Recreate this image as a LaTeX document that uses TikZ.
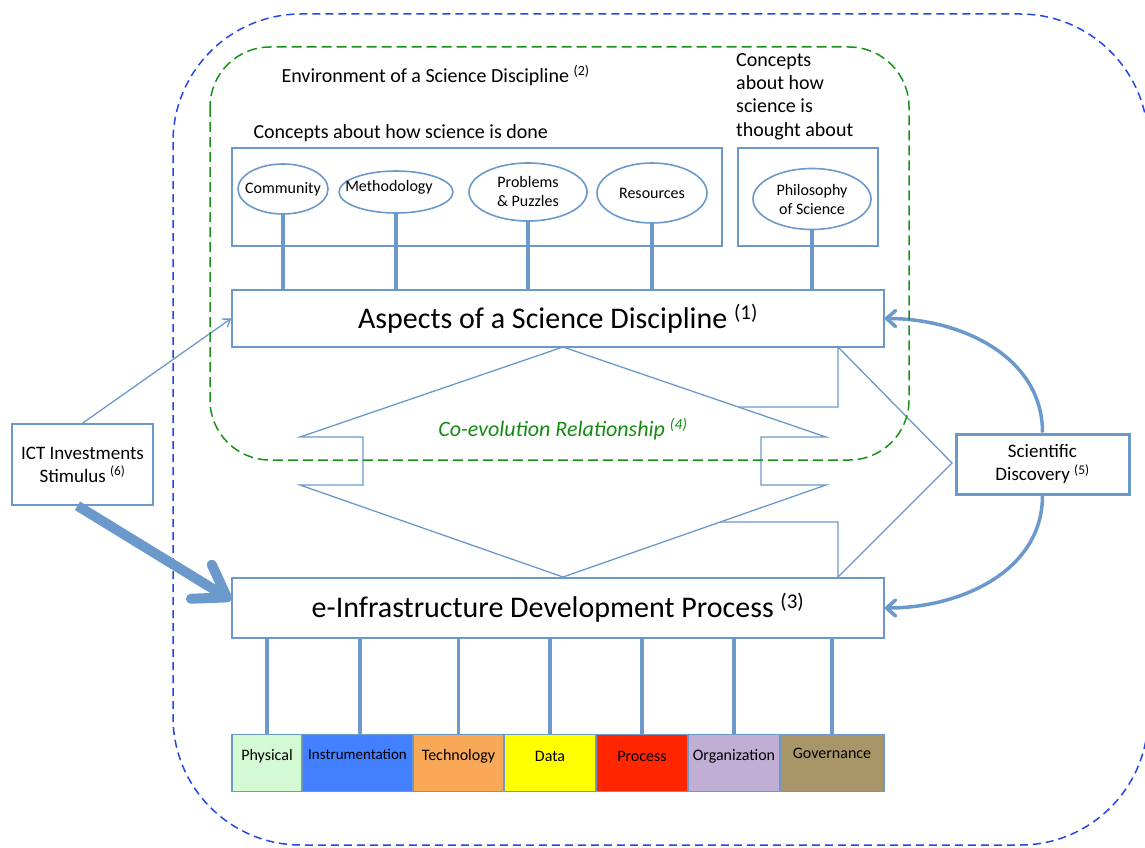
\documentclass[tikz,border=0pt]{standalone}
\usepackage{fontspec}
\setmainfont{Carlito}
\usetikzlibrary{arrows.meta,shapes.geometric}

\definecolor{edgeblue}{RGB}{108,153,204}
\definecolor{framebl}{RGB}{35,70,235}
\definecolor{framegr}{RGB}{25,145,25}
\definecolor{txtgreen}{RGB}{20,140,20}
\definecolor{cPhys}{RGB}{212,250,212}
\definecolor{cInst}{RGB}{66,128,255}
\definecolor{cTech}{RGB}{249,168,88}
\definecolor{cData}{RGB}{255,255,0}
\definecolor{cProc}{RGB}{255,38,0}
\definecolor{cOrg}{RGB}{192,174,212}
\definecolor{cGov}{RGB}{168,150,104}

\begin{document}
\begin{tikzpicture}[x=1pt,y=-1pt,
  box/.style={draw=edgeblue, line width=1.6pt, fill=white, inner sep=0pt},
  oval/.style={ellipse, draw=edgeblue, line width=1.6pt, fill=white, inner sep=0pt},
  ovaltext/.style={label={[align=center, font=\fontsize{16}{19}\selectfont]center:#1}},
  conn/.style={draw=edgeblue, line width=3.5pt},
  outline/.style={draw=edgeblue, line width=1.3pt, fill=white},
  cbox/.style={draw=edgeblue, line width=1.6pt, inner sep=0pt, minimum height=57pt},
  clbl/.style={font=\fontsize{16}{19}\selectfont, yshift=7pt},
  bluedash/.style={draw=framebl, line width=1.5pt, dash pattern=on 8pt off 5pt},
  greendash/.style={draw=framegr, line width=1.5pt, dash pattern=on 10pt off 5pt},
  bigfont/.style={font=\fontsize{30}{36}\selectfont},
  midfont/.style={font=\fontsize{19}{23}\selectfont},
]
\useasboundingbox (0,0) rectangle (1145,848);

% outer frame
\draw[bluedash, rounded corners=128pt] (173,14) rectangle (1148,845);

% concept boxes
\node[box, minimum width=490pt, minimum height=98pt] (done) at (477,197) {};
\node[box, minimum width=140pt, minimum height=98pt] (thought) at (808,197) {};

% main process boxes
\node[box, bigfont, minimum width=652pt, minimum height=57pt] (asp) at (558,318.5)
  {Aspects of a Science Discipline \textsuperscript{(1)}};
\node[box, bigfont, minimum width=652pt, minimum height=60pt] (einf) at (558,608)
  {e-Infrastructure Development Process \textsuperscript{(3)}};

% co-evolution arrow and diamond
\draw[outline] (838,347) -- (952,463) -- (838,577) -- (838,522) -- (700,522)
  -- (700,407) -- (838,407) -- cycle;
\draw[outline] (563,347) -- (826,437) -- (761,437) -- (761,485) -- (826,485)
  -- (563,577) -- (300,485) -- (363,485) -- (363,437) -- (300,437) -- cycle;

% side boxes
\node[box, midfont, align=center, minimum width=141pt, minimum height=81pt] (ict) at (82.5,464.5)
  {ICT Investments\\Stimulus \textsuperscript{(6)}};
\node[box, midfont, align=center, line width=3pt, minimum width=173pt, minimum height=60pt] (sd) at (1042.5,464)
  {Scientific\\Discovery \textsuperscript{(5)}};

% concept ovals
\node[oval, minimum width=90pt, minimum height=50pt, ovaltext=Community] (comm) at (283,189) {};
\node[oval, minimum width=114pt, minimum height=42pt,
  label={[font=\fontsize{16}{19}\selectfont, xshift=-7pt, yshift=5pt]center:Methodology}] (meth) at (396,192) {};
\node[oval, minimum width=118pt, minimum height=58pt, ovaltext={Problems\\\& Puzzles}] (prob) at (528,192) {};
\node[oval, minimum width=110pt, minimum height=60pt, ovaltext=Resources] (res) at (652,193) {};
\node[oval, minimum width=118pt, minimum height=61pt, ovaltext={Philosophy\\of Science}] (phil) at (812,199) {};

\foreach \n in {comm,meth,prob,res,phil}
  \draw[conn] (\n.south) -- (\n.south |- asp.north);

% infrastructure components
\node[cbox, fill=cPhys, minimum width=70pt, label={[clbl]center:Physical}] (phys) at (267,763) {};
\node[cbox, fill=cInst, minimum width=111pt, label={[clbl, font=\fontsize{15}{18}\selectfont, yshift=2pt]center:Instrumentation}] (inst) at (357.5,763) {};
\node[cbox, fill=cTech, minimum width=91pt, label={[clbl]center:Technology}] (tech) at (458.5,763) {};
\node[cbox, fill=cData, minimum width=92pt, label={[clbl]center:Data}] (data) at (550,763) {};
\node[cbox, fill=cProc, minimum width=92pt, label={[clbl]center:Process}] (proc) at (642,763) {};
\node[cbox, fill=cOrg, minimum width=92pt, label={[clbl]center:Organization}] (org) at (734,763) {};
\node[cbox, fill=cGov, minimum width=104pt, label={[clbl, yshift=3pt]center:Governance}] (gov) at (832,763) {};

\foreach \n in {phys,tech,data,proc,org,gov}
  \draw[conn] (\n.north) -- (\n.north |- einf.south);
\draw[conn] ([xshift=2.5pt]inst.north) -- ([xshift=2.5pt]inst.north |- einf.south);

% stimulus arrows
\draw[edgeblue, line width=1.3pt, -{Straight Barb[length=7pt,width=10pt]}] (ict.north) -- (asp.west);
\draw[edgeblue, line width=10pt, -{Straight Barb[length=30pt,width=40pt,round]}]
  ([xshift=-5pt]ict.south) -- ([yshift=8pt]einf.west);

% discovery feedback
\draw[edgeblue, line width=3.5pt, -{Straight Barb[length=9pt,width=16pt,round]}]
  (sd.north) to[out=90, in=0] (asp.east);
\draw[edgeblue, line width=3.5pt, -{Straight Barb[length=9pt,width=16pt,round]}]
  (sd.south) to[out=-90, in=0] (einf.east);

% environment frame
\draw[greendash, rounded corners=60pt] (210,47) rectangle (909,460);

% labels
\node[anchor=base west, font=\fontsize{20}{24}\selectfont] (envlbl) at (278,83)
  {Environment of a Science Discipline \textsuperscript{(2)}};
\node[anchor=base west, font=\fontsize{20}{24}\selectfont] (donelbl) at (250,139)
  {Concepts about how science is done};
\node[anchor=north west, align=left, inner sep=0pt, font=\fontsize{20}{23.3}\selectfont] (thoughtlbl) at (736,53)
  {Concepts\\about how\\science is\\thought about};
\node[font=\fontsize{22}{26}\selectfont\itshape, text=txtgreen] (coev) at (563,429)
  {Co-evolution Relationship \textsuperscript{(4)}};
\end{tikzpicture}
\end{document}
